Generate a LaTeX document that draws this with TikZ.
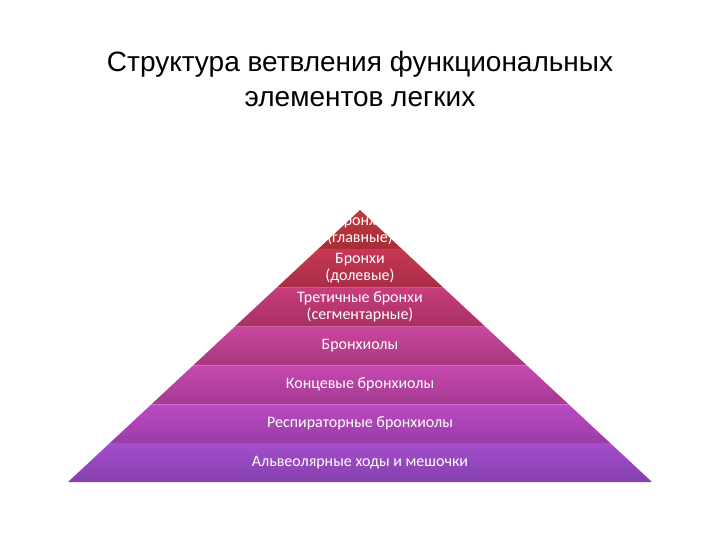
\documentclass[tikz,border=0pt]{standalone}
\usepackage{fontspec}
\setmainfont{Liberation Sans}
\newfontfamily\tierfont{Carlito}

\definecolor{bandAtop}{RGB}{192,58,62}
\definecolor{bandAbot}{RGB}{168,44,56}
\definecolor{bandBtop}{RGB}{198,56,84}
\definecolor{bandBbot}{RGB}{170,44,70}
\definecolor{bandCtop}{RGB}{200,62,124}
\definecolor{bandCbot}{RGB}{168,48,100}
\definecolor{bandDtop}{RGB}{202,70,156}
\definecolor{bandDbot}{RGB}{168,56,128}
\definecolor{bandEtop}{RGB}{198,72,176}
\definecolor{bandEbot}{RGB}{164,58,146}
\definecolor{bandFtop}{RGB}{188,74,196}
\definecolor{bandFbot}{RGB}{154,60,166}
\definecolor{bandGtop}{RGB}{164,78,204}
\definecolor{bandGbot}{RGB}{132,64,172}

\tikzset{
  tiertext/.style={text=white, align=center, inner sep=0pt,
    font=\tierfont\fontsize{16}{17}\selectfont},
  headline/.style={align=center, inner sep=0pt,
    font=\fontsize{28}{35}\selectfont}
}

\begin{document}
\begin{tikzpicture}[x=1pt,y=1pt,yscale=-1]
\useasboundingbox (0,0) rectangle (720,540);

% Title
\node[headline] (title) at (360,79) {Структура ветвления функциональных\\элементов легких};

% Pyramid bands, apex (360,210), base 68..652 at y=482
\foreach \i/\ct/\cb in {0/bandAtop/bandAbot, 1/bandBtop/bandBbot, 2/bandCtop/bandCbot,
    3/bandDtop/bandDbot, 4/bandEtop/bandEbot, 5/bandFtop/bandFbot, 6/bandGtop/bandGbot}{
  \pgfmathsetmacro{\ya}{210+\i*272/7}
  \pgfmathsetmacro{\yb}{210+(\i+1)*272/7}
  \pgfmathsetmacro{\wa}{\i*292/7}
  \pgfmathsetmacro{\wb}{(\i+1)*292/7}
  \shade[top color=\ct, bottom color=\cb]
    (360-\wa,\ya) -- (360+\wa,\ya) -- (360+\wb,\yb) -- (360-\wb,\yb) -- cycle;
}

% Band labels
\node[tiertext] (main) at (360,229.5) {Бронхи\\(главные)};
\node[tiertext] (lobar) at (360,268) {Бронхи\\(долевые)};
\node[tiertext] (segm) at (360,307) {Третичные бронхи\\(сегментарные)};
\node[tiertext] (bronchiole) at (360,346) {Бронхиолы};
\node[tiertext] (terminal) at (360,384.5) {Концевые бронхиолы};
\node[tiertext] (resp) at (360,423.5) {Респираторные бронхиолы};
\node[tiertext] (alveolar) at (360,462.5) {Альвеолярные ходы и мешочки};

\end{tikzpicture}
\end{document}
